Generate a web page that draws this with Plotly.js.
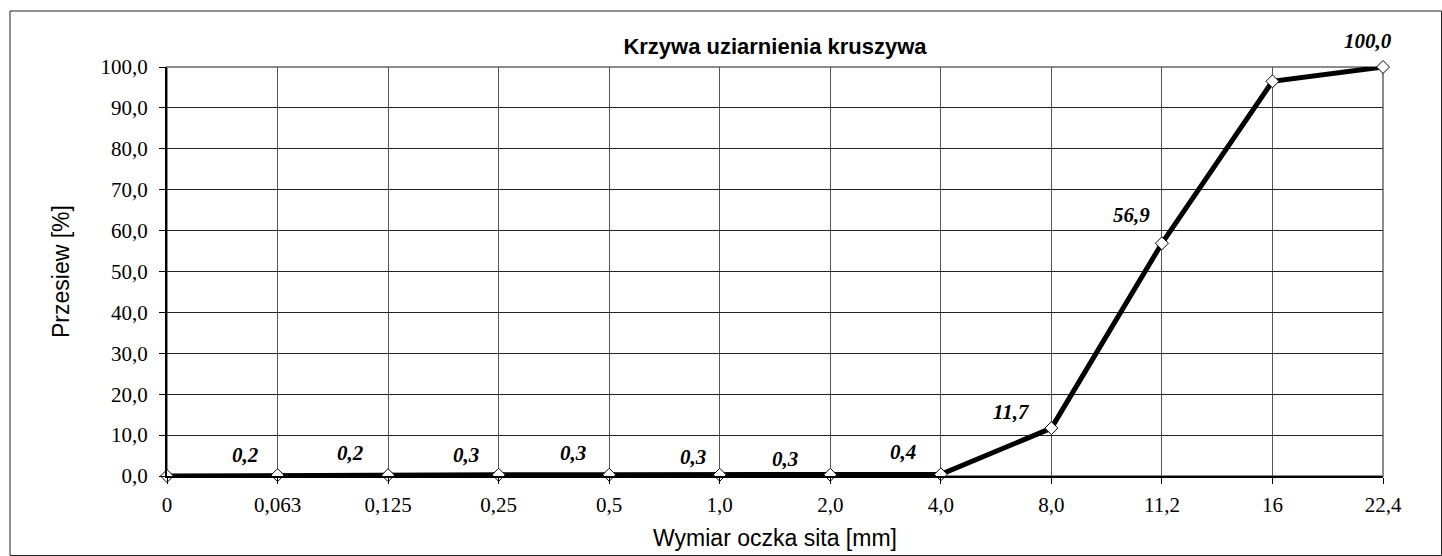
<!DOCTYPE html>
<html>
<head>
<meta charset="utf-8">
<script src="https://cdn.plot.ly/plotly-3.0.1.min.js"></script>
<style>html,body{margin:0;padding:0;background:#fff;}#chart{width:1442px;height:556px;}</style>
</head>
<body>
<div id="chart"></div>
<script>
// Data
const sieveSizes = ["0", "0,063", "0,125", "0,25", "0,5", "1,0", "2,0", "4,0", "8,0", "11,2", "16", "22,4"];
const passing = [0, 0.2, 0.2, 0.3, 0.3, 0.3, 0.3, 0.4, 11.7, 56.9, 96.5, 100.0];
const labelText = ["", "0,2", "0,2", "0,3", "0,3", "0,3", "0,3", "0,4", "11,7", "56,9", "96,5", "100,0"];
const yTickVals = [0, 10, 20, 30, 40, 50, 60, 70, 80, 90, 100];
const yTickText = ["0,0", "10,0", "20,0", "30,0", "40,0", "50,0", "60,0", "70,0", "80,0", "90,0", "100,0"];

// Label pixel offsets (style only)
const labelDx = [0, -32, -38, -33, -36, -27, -45, -38, -40, -30, -50, -15];
const labelDy = [0, 20, 22, 20, 22, 18, 16, 22, 16, 28, -4, 26];

const serif = "Liberation Serif, Times New Roman, serif";
const sans = "Liberation Sans, Arial, sans-serif";

const trace = {
  x: sieveSizes,
  y: passing,
  type: "scatter",
  mode: "lines+markers",
  line: {color: "#000", width: 5},
  marker: {symbol: "diamond", size: 10, color: "#fff", line: {color: "#000", width: 1}},
  cliponaxis: false,
  hoverinfo: "x+y"
};

const annotations = [];
for (let i = 0; i < sieveSizes.length; i++) {
  if (!labelText[i]) continue;
  annotations.push({
    x: sieveSizes[i], y: passing[i], xref: "x", yref: "y",
    text: labelText[i], showarrow: false,
    xshift: labelDx[i], yshift: labelDy[i],
    xanchor: "center", yanchor: "middle",
    font: {family: serif, size: 21, color: "#000", weight: "bold", style: "italic"}
  });
}

const layout = {
  width: 1442, height: 556,
  margin: {l: 167, r: 59, t: 67, b: 80, pad: 0},
  paper_bgcolor: "#fff", plot_bgcolor: "#fff",
  showlegend: false,
  title: {
    text: "<b>Krzywa uziarnienia kruszywa</b>",
    font: {family: sans, size: 22, color: "#000"},
    x: 0.5, xref: "paper", xanchor: "center",
    y: 1 - 46 / 556, yref: "container", yanchor: "middle"
  },
  xaxis: {
    type: "category",
    range: [0, 11],
    showgrid: true, gridcolor: "#555", gridwidth: 1,
    showline: true, linecolor: "#000", linewidth: 2,
    ticks: "outside", ticklen: 6, tickcolor: "#000", tickwidth: 1,
    ticklabelstandoff: 3,
    tickfont: {family: serif, size: 21, color: "#000"},
    zeroline: false, fixedrange: true,
    title: {text: "Wymiar oczka sita [mm]", font: {family: sans, size: 23, color: "#000"}, standoff: 14}
  },
  yaxis: {
    range: [0, 100],
    tickvals: yTickVals, ticktext: yTickText,
    showgrid: true, gridcolor: "#222", gridwidth: 1,
    showline: true, linecolor: "#000", linewidth: 2,
    ticks: "outside", ticklen: 6, tickcolor: "#000", tickwidth: 1,
    ticklabelstandoff: 7,
    tickfont: {family: serif, size: 21, color: "#000"},
    zeroline: false, fixedrange: true,
    title: {text: "Przesiew [%]", font: {family: sans, size: 23, color: "#000"}, standoff: 24}
  },
  shapes: [
    {type: "rect", xref: "paper", yref: "paper", x0: 0, x1: 1, y0: 0, y1: 1,
     line: {color: "#8c8c8c", width: 2}, layer: "between"},
    {type: "rect", xref: "paper", yref: "paper",
     x0: (10 - 167) / 1216, x1: (1441.5 - 167) / 1216,
     y0: (476 - 555.5) / 409, y1: 1 + (67 - 11) / 409,
     line: {color: "#222", width: 1}, layer: "below"}
  ],
  annotations: annotations
};

Plotly.newPlot("chart", [trace], layout, {displayModeBar: false, staticPlot: false});
</script>
</body>
</html>
